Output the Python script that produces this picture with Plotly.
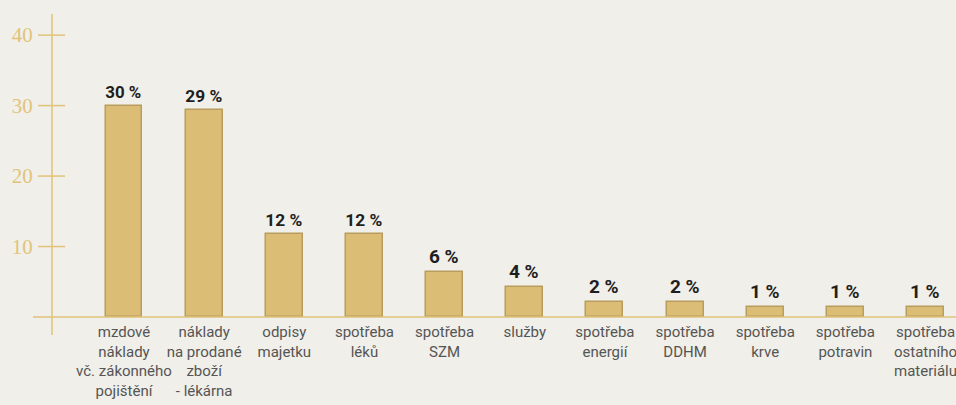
import plotly.graph_objects as go

categories = [
    "mzdové<br>náklady<br>vč. zákonného<br>pojištění",
    "náklady<br>na prodané<br>zboží<br>- lékárna",
    "odpisy<br>majetku",
    "spotřeba<br>léků",
    "spotřeba<br>SZM",
    "služby",
    "spotřeba<br>energií",
    "spotřeba<br>DDHM",
    "spotřeba<br>krve",
    "spotřeba<br>potravin",
    "spotřeba<br>ostatního<br>materiálu",
]
values = [30.0, 29.4, 11.8, 11.8, 6.4, 4.2, 2.2, 2.2, 1.45, 1.45, 1.45]
value_labels = ["30 %", "29 %", "12 %", "12 %", "6 %", "4 %", "2 %", "2 %", "1 %", "1 %", "1 %"]
y_ticks = [10, 20, 30, 40]
y_tick_text = ["10", "20", "30", "40"]

GOLD = "#e2c37a"
BAR = "#dcbd76"
BAR_LINE = "#b99d5e"
BG = "#f0efe9"

W, H = 956, 405
L, R, T, B = 52, 0, 14, 88
pw = W - L - R
ph = H - T - B

fig = go.Figure()
fig.add_trace(go.Bar(
    x=categories,
    y=values,
    width=0.46,
    marker=dict(color=BAR, line=dict(color=BAR_LINE, width=1.5)),
    text=value_labels,
    textposition="outside",
    textfont=dict(family="Roboto", size=19, color="#1e1e1e", weight=700),
    cliponaxis=False,
    hoverinfo="skip",
))

shapes = []
# y-axis line (full, incl. extension below baseline)
shapes.append(dict(type="line", xref="paper", yref="paper", x0=0, x1=0,
                   y0=-18 / ph, y1=1, line=dict(color=GOLD, width=1.5)))
# baseline
shapes.append(dict(type="line", xref="paper", yref="paper", x0=-19 / pw, x1=1,
                   y0=0, y1=0, line=dict(color=GOLD, width=1.5)))
# ticks crossing the axis
for v in y_ticks:
    shapes.append(dict(type="line", xref="paper", yref="y", x0=-14 / pw, x1=13 / pw,
                       y0=v, y1=v, line=dict(color=GOLD, width=1.5)))

fig.update_layout(
    width=W, height=H,
    margin=dict(l=L, r=R, t=T, b=B),
    paper_bgcolor=BG,
    plot_bgcolor=BG,
    showlegend=False,
    bargap=0,
    shapes=shapes,
    xaxis=dict(
        range=[-0.898, 10.38],
        showline=False, showgrid=False, zeroline=False, ticks="",
        tickfont=dict(family="Roboto", size=15, color="#555555"),
        tickangle=0,
        ticklabelstandoff=4,
    ),
    yaxis=dict(
        range=[0, 43],
        showline=False, showgrid=False, zeroline=False,
        tickvals=y_ticks, ticktext=y_tick_text,
        ticks="outside", ticklen=14, tickcolor="rgba(0,0,0,0)",
        tickfont=dict(family="Liberation Serif", size=21, color=GOLD),
    ),
)

fig.write_html(
    "out.html",
    config={"displayModeBar": False},
    post_script=["document.body.style.margin='0px';document.body.style.overflow='hidden';"],
)
